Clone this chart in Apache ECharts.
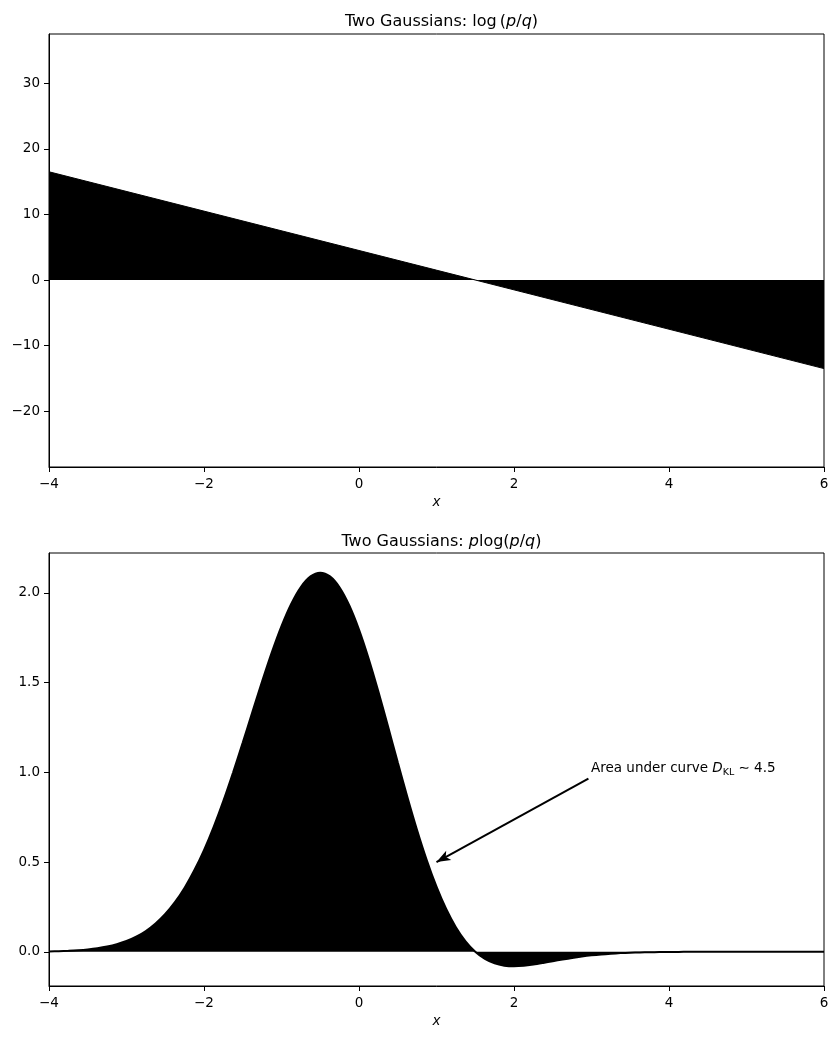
<!DOCTYPE html>
<html>
<head>
<meta charset="utf-8">
<script src="https://cdn.jsdelivr.net/npm/echarts@6/dist/echarts.min.js"></script>
<style>
html,body{margin:0;padding:0;background:#fff;}
#c{width:838px;height:1039px;}
</style>
</head>
<body>
<div id="c"></div>
<script>
// ---- data ----
const xTicks = [-4, -2, 0, 2, 4, 6];
const topYTicks = [-20, -10, 0, 10, 20, 30];
const bottomYTicks = [0, 0.5, 1.0, 1.5, 2.0];

// top panel: log(p/q) (straight line)
const xTop = [-4, 6];
const logRatio = [16.5, -13.5];

// bottom panel: p log(p/q)
const xBottom = [
  -4, -3.875, -3.75, -3.625, -3.5, -3.375, -3.25, -3.125, -3, -2.875, -2.75, -2.625, -2.5, -2.375, -2.25, -2.125,
  -2, -1.875, -1.75, -1.625, -1.5, -1.375, -1.25, -1.125, -1, -0.875, -0.75, -0.625, -0.5, -0.375, -0.25, -0.125,
  0, 0.125, 0.25, 0.375, 0.5, 0.625, 0.75, 0.875, 1, 1.125, 1.25, 1.375, 1.5, 1.625, 1.75, 1.875,
  2, 2.125, 2.25, 2.375, 2.5, 2.625, 2.75, 2.875, 3, 3.125, 3.25, 3.375, 3.5, 3.625, 3.75, 3.875,
  4, 4.125, 4.25, 4.375, 4.5, 4.75, 5, 5.5, 6];
const pLogRatio = [
  0.0022, 0.0035, 0.0056, 0.0086, 0.0131, 0.0196, 0.0289, 0.0419, 0.0598, 0.0840, 0.1159, 0.1575, 0.2103, 0.2763, 0.3571, 0.4539,
  0.5669, 0.6965, 0.8412, 0.9988, 1.1657, 1.3370, 1.5069, 1.6685, 1.8148, 1.9384, 2.0327, 2.0920, 2.1124, 2.0917, 2.0300, 1.9297,
  1.7952, 1.6328, 1.4500, 1.2550, 1.0562, 0.8614, 0.6776, 0.5101, 0.3630, 0.2384, 0.1370, 0.0581, 0.0, -0.0400, -0.0647, -0.0774,
  -0.0810, -0.0783, -0.0714, -0.0624, -0.0526, -0.0430, -0.0341, -0.0264, -0.0199, -0.0147, -0.0107, -0.0075, -0.0052, -0.0036, -0.0024, -0.0016,
  -0.0010, -0.0006, -0.0004, -0.0002, -0.0001, 0, 0, 0, 0];

// annotation
const annotText = 'Area under curve';
const annotValue = '4.5';
const annotTextAt = [3, 1.0];
const annotArrowFrom = [2.96, 0.965];
const annotArrowTo = [1.0, 0.5];

// ---- chart ----
const FONT = 'DejaVu Sans';
const minus = v => (v < 0 ? '\u2212' + Math.abs(v) : String(v));

function makeX(gridIndex) {
  return {
    type: 'value', gridIndex, min: -4, max: 6, interval: 2,
    name: 'x', nameLocation: 'middle', nameGap: 28,
    nameTextStyle: { fontFamily: FONT, fontSize: 13.5, fontStyle: 'italic', color: '#000' },
    axisLine: { show: true, onZero: false, lineStyle: { color: '#000', width: 1 } },
    axisTick: { show: true, length: 5, lineStyle: { color: '#000', width: 1 } },
    axisLabel: { fontFamily: FONT, fontSize: 13.5, color: '#000', margin: 10, formatter: minus,
      showMinLabel: true, showMaxLabel: true },
    splitLine: { show: false }
  };
}
function makeY(gridIndex, min, max, ticks, fmt) {
  return {
    type: 'value', gridIndex, min, max,
    axisLine: { show: true, onZero: false, lineStyle: { color: '#000', width: 1 } },
    axisTick: { show: true, length: 5, lineStyle: { color: '#000', width: 1 }, customValues: ticks },
    axisLabel: { fontFamily: FONT, fontSize: 13.5, color: '#000', margin: 9, formatter: fmt, customValues: ticks },
    splitLine: { show: false }
  };
}

const chart = echarts.init(document.getElementById('c'), null, { renderer: 'canvas' });
const titleRich = {
  n: { fontFamily: FONT, fontSize: 16, color: '#000', fontWeight: 'normal' },
  i: { fontFamily: FONT, fontSize: 16, color: '#000', fontStyle: 'italic', fontWeight: 'normal' }
};
chart.setOption({
  animation: false,
  backgroundColor: '#fff',
  title: [
    { text: '{n|Two Gaussians: log\u2009(}{i|p}{n|/}{i|q}{n|)}', left: 436.5, top: 9, textAlign: 'center',
      textStyle: { fontWeight: 'normal', rich: titleRich } },
    { text: '{n|Two Gaussians: }{i|p}{n|log(}{i|p}{n|/}{i|q}{n|)}', left: 436.5, top: 529, textAlign: 'center',
      textStyle: { fontWeight: 'normal', rich: titleRich } }
  ],
  grid: [
    { left: 49, top: 34, width: 775, height: 433, show: true, borderColor: '#000', borderWidth: 1, backgroundColor: 'transparent' },
    { left: 49, top: 553, width: 775, height: 433, show: true, borderColor: '#000', borderWidth: 1, backgroundColor: 'transparent' }
  ],
  xAxis: [makeX(0), makeX(1)],
  yAxis: [
    makeY(0, -28.5, 37.5, topYTicks, minus),
    makeY(1, -0.1907, 2.2221, bottomYTicks, v => Number(v).toFixed(1))
  ],
  series: [
    {
      type: 'line', xAxisIndex: 0, yAxisIndex: 0,
      data: xTop.map((x, i) => [x, logRatio[i]]),
      showSymbol: false, symbol: 'none',
      lineStyle: { color: '#000', width: 1 },
      areaStyle: { color: '#000', opacity: 1, origin: 'auto' },
      silent: true
    },
    {
      type: 'line', xAxisIndex: 1, yAxisIndex: 1,
      data: xBottom.map((x, i) => [x, pLogRatio[i]]),
      showSymbol: false, symbol: 'none', smooth: 0.3,
      lineStyle: { color: '#000', width: 2 },
      areaStyle: { color: '#000', opacity: 1, origin: 'auto' },
      silent: true,
      markLine: {
        silent: true, symbol: ['none', 'arrow'], symbolSize: [8, 14],
        lineStyle: { color: '#000', width: 2, type: 'solid' },
        label: { show: false },
        data: [[{ coord: annotArrowFrom }, { coord: annotArrowTo }]]
      },
      markPoint: {
        silent: true, symbol: 'circle', symbolSize: 1,
        itemStyle: { color: 'rgba(0,0,0,0)' },
        data: [{ coord: annotTextAt }],
        label: {
          show: true, position: [0, 0], align: 'left', verticalAlign: 'bottom', offset: [0, 6],
          formatter: '{n|' + annotText + ' }{i|D}{s|KL}{n| \u223C ' + annotValue + '}',
          rich: {
            n: { fontFamily: FONT, fontSize: 13.5, color: '#000', verticalAlign: 'bottom', padding: [0, 0, 2, 0] },
            i: { fontFamily: FONT, fontSize: 13.5, color: '#000', fontStyle: 'italic', verticalAlign: 'bottom', padding: [0, 0, 2, 0] },
            s: { fontFamily: FONT, fontSize: 9.5, color: '#000', verticalAlign: 'bottom', padding: [0, 0, 0, 0] }
          }
        }
      }
    }
  ]
});
</script>
</body>
</html>
